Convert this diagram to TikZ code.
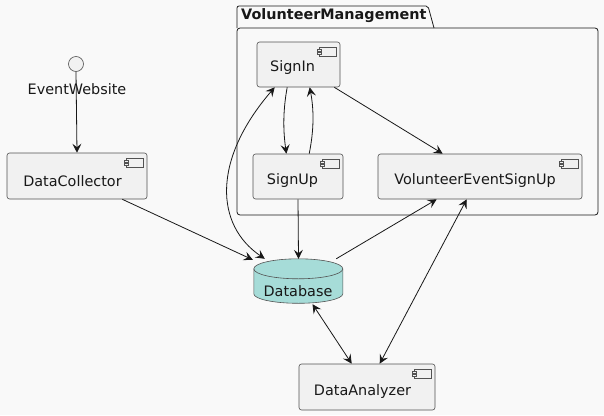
\documentclass[tikz,border=0pt]{standalone}
\usepackage{fontspec}
\setmainfont{DejaVu Sans}
\usetikzlibrary{arrows.meta,calc}
\definecolor{bg}{HTML}{F9F9F9}
\definecolor{ink}{HTML}{181818}
\definecolor{compfill}{HTML}{F1F1F1}
\definecolor{dbfill}{HTML}{A6DCD8}
\tikzset{
  comp/.style={draw=ink!75, line width=0.6pt, fill=compfill, rounded corners=2.5pt, inner sep=0pt},
  lbl/.style={inner sep=0pt, text=ink, font=\fontsize{14.4}{17}\selectfont},
  conn/.style={draw=ink, line width=0.8pt},
  tip/.tip={Stealth[length=9pt,width=9pt,inset=3.5pt]},
  one/.style={conn,-tip},
  two/.style={conn,tip-tip},
}
\newcommand\compicon[1]{%
  \draw[ink!75, line width=0.5pt, fill=compfill] ($(#1.north east)+(-20.7,5.3)$) rectangle ($(#1.north east)+(-4,14.7)$);
  \draw[ink!75, line width=0.5pt, fill=compfill] ($(#1.north east)+(-22.7,7.3)$) rectangle ($(#1.north east)+(-19.3,9.3)$);
  \draw[ink!75, line width=0.5pt, fill=compfill] ($(#1.north east)+(-22.7,10.3)$) rectangle ($(#1.north east)+(-19.3,12.3)$);
}
\begin{document}
\begin{tikzpicture}[x=1pt,y=-1pt]
\fill[bg] (0,0) rectangle (604,415);
\useasboundingbox (0,0) rectangle (604,415);

% package
\draw[ink, line width=0.8pt, rounded corners=3pt] (237,28) rectangle (598,215);
\draw[ink, line width=0.8pt] (237,28) -- (237,8) [rounded corners=2pt] -- (237,6) -- (428,6) [sharp corners] -- (434,28);
\node[lbl, anchor=west, font=\fontsize{14.4}{17}\bfseries] (pkgT) at (241,16) {VolunteerManagement};

% components
\node[comp, minimum width=83, minimum height=45] (si) at (298.5,64.5) {};
\node[lbl] (siT) at (292.5,68) {SignIn};
\compicon{si}
\node[comp, minimum width=90, minimum height=45] (su) at (298,176.5) {};
\node[lbl] (suT) at (292.5,181) {SignUp};
\compicon{su}
\node[comp, minimum width=204, minimum height=45] (ve) at (480,176.5) {};
\node[lbl] (veT) at (475,181) {VolunteerEventSignUp};
\compicon{ve}
\node[comp, minimum width=140, minimum height=46] (dc) at (77,176) {};
\node[lbl] (dcT) at (72.5,181) {DataCollector};
\compicon{dc}
\node[comp, minimum width=136, minimum height=46] (da) at (367,387) {};
\node[lbl] (daT) at (362.5,392) {DataAnalyzer};
\compicon{da}

% interface
\node[circle, draw=ink!75, line width=0.6pt, fill=compfill, minimum size=15, inner sep=0pt] (ew) at (76,64) {};
\node[lbl] (ewT) at (77,89) {EventWebsite};

% database
\node[inner sep=0pt, minimum width=89, minimum height=45] (db) at (298.5,281.5) {};
\draw[ink!75, line width=0.6pt, fill=dbfill]
  (db.north west) ++(0,10) -- ++(0,25) arc[start angle=180, end angle=360, x radius=44.5, y radius=-9.5]
  -- ++(0,-25) arc[start angle=0, end angle=180, x radius=44.5, y radius=-10] -- cycle;
\draw[ink!75, line width=0.6pt] ($(db.north west)+(0,10)$) arc[start angle=180, end angle=360, x radius=44.5, y radius=-10];
\node[lbl] (dbT) at (298,291) {Database};

% connectors
\draw[one] (ew.south) -- (dc.north);
\draw[one] ($(dc.south east)+(-25,0)$) -- ($(db.north west)+(-1,1)$);
\draw[two] ($(si.south west)+(18,0)$) .. controls (212,160) and (215,225) .. ($(db.north west)+(11,0)$);
\draw[one] ($(si.south west)+(30.5,0)$) .. controls (283,110) and (283,130) .. ($(su.north west)+(33.7,0)$);
\draw[one] ($(su.north west)+(56.5,0)$) .. controls (314,130) and (314,110) .. ($(si.south west)+(53,0)$);
\draw[one] ($(si.south east)+(-6,0)$) -- ($(ve.north west)+(65,0)$);
\draw[one] (su.south) -- (db.north);
\draw[one] ($(db.north east)+(-7,0)$) -- ($(ve.south west)+(59,0)$);
\draw[two] ($(ve.south west)+(89,0)$) -- ($(da.north west)+(81,0)$);
\draw[two] ($(db.south)+(14,0)$) -- ($(da.north west)+(53,0)$);
\end{tikzpicture}
\end{document}
